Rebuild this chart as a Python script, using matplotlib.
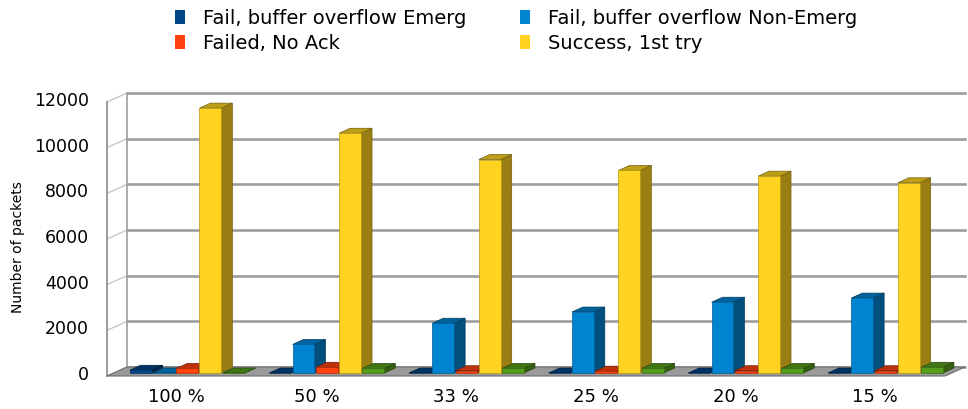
import matplotlib

matplotlib.use("Agg")
import matplotlib.pyplot as plt
import matplotlib.transforms as mtransforms
import numpy as np
from matplotlib.colors import to_rgb
from matplotlib.patches import Patch, Polygon


CATEGORIES = ["100 %", "50 %", "33 %", "25 %", "20 %", "15 %"]
EMERG = [120, 0, 0, 0, 0, 0]
NON_EMERG = [0, 1250, 2180, 2670, 3100, 3280]
NO_ACK = [200, 250, 100, 80, 100, 100]
SUCCESS = [11600, 10500, 9350, 8870, 8620, 8330]
OTHER = [0, 200, 200, 200, 200, 250]
SERIES = [EMERG, NON_EMERG, NO_ACK, SUCCESS, OTHER]
LABELS = [
    "Fail, buffer overflow Emerg",
    "Fail, buffer overflow Non-Emerg",
    "Failed, No Ack",
    "Success, 1st try",
    None,
]
COLORS = ["#004586", "#0084d1", "#ff420e", "#ffd320", "#579d1c"]
Y_TICKS = [0, 2000, 4000, 6000, 8000, 10000, 12000]

# pseudo-3d geometry, in pixels (y up)
FLOOR_DX, FLOOR_DY = -20, -9
BAR_DX, BAR_DY = -9, -6
DEPTH_DX, DEPTH_DY = 11, 5


def shade(color, k):
    return tuple(c * k for c in to_rgb(color))


def main() -> None:
    fig = plt.figure(figsize=(9.68, 4.09), dpi=100)
    W, H = 968, 409
    ax = fig.add_axes([127 / W, 42 / H, 838 / W, 274 / H])
    n = len(CATEGORIES)
    ax.set_xlim(-0.5, n - 0.5)
    ax.set_ylim(0, Y_TICKS[-1])
    ax.axis("off")

    ux = n / ax.bbox.width
    uy = Y_TICKS[-1] / ax.bbox.height

    grid = "#9e9e9e"
    # back wall grid
    for t in Y_TICKS:
        ax.plot([-0.5, n - 0.5], [t, t], color=grid, lw=1.9, zorder=1, clip_on=False)
    # left wall
    x0 = -0.5
    for t in Y_TICKS:
        ax.plot([x0, x0 + FLOOR_DX * ux], [t, t + FLOOR_DY * uy], color="#c8c8c8", lw=1.0,
                zorder=1, clip_on=False)
    ax.plot([x0, x0], [0, Y_TICKS[-1]], color=grid, lw=1.2, zorder=1, clip_on=False)
    ax.plot([x0 + FLOOR_DX * ux] * 2, [FLOOR_DY * uy, Y_TICKS[-1] + FLOOR_DY * uy],
            color="#8a8a8a", lw=1.2, zorder=1, clip_on=False)
    # floor
    floor = Polygon(
        [(x0, 0), (n - 0.5, 0), (n - 0.5 + FLOOR_DX * ux, FLOOR_DY * uy),
         (x0 + FLOOR_DX * ux, FLOOR_DY * uy)],
        closed=True, facecolor="#9a9a9a", edgecolor="#6e6e6e", lw=0.8, zorder=2, clip_on=False,
    )
    ax.add_patch(floor)

    nser = len(SERIES)
    slot = 1.0 / (nser + 1)
    bw = slot * 0.94
    dx, dy = DEPTH_DX * ux, DEPTH_DY * uy
    z = 3
    for i in range(n):
        for s, (vals, col) in enumerate(zip(SERIES, COLORS)):
            left = i - nser * slot / 2 + s * slot + BAR_DX * ux
            base = BAR_DY * uy
            top = base + vals[i]
            side = Polygon([(left + bw, base), (left + bw + dx, base + dy),
                            (left + bw + dx, top + dy), (left + bw, top)],
                           closed=True, facecolor=shade(col, 0.6), edgecolor=shade(col, 0.45),
                           lw=0.5, zorder=z, clip_on=False)
            cap = Polygon([(left, top), (left + bw, top), (left + bw + dx, top + dy),
                           (left + dx, top + dy)],
                          closed=True, facecolor=shade(col, 0.75), edgecolor=shade(col, 0.45),
                          lw=0.5, zorder=z, clip_on=False)
            ax.add_patch(side)
            ax.add_patch(cap)
            ax.bar(left, vals[i], width=bw, bottom=base, align="edge", color=col,
                   edgecolor=shade(col, 0.7), linewidth=0.5, zorder=z, clip_on=False)
            z += 1

    # tick labels
    ytr = mtransforms.offset_copy(ax.get_yaxis_transform(), fig=fig, x=-38, y=-8, units="dots")
    for t in Y_TICKS:
        ax.text(0, t, f"{t}", transform=ytr, ha="right", va="center", fontsize=12.5,
                family="DejaVu Sans")
    xtr = mtransforms.offset_copy(ax.get_xaxis_transform(), fig=fig, x=-20, y=-30, units="dots")
    for i, lab in enumerate(CATEGORIES):
        ax.text(i, 0, lab, transform=xtr, ha="center", va="center", fontsize=13,
                family="DejaVu Sans")

    fig.text(18 / W, 1 - 247 / H, "Number of packets", rotation=90, ha="center", va="center",
             fontsize=10, family="DejaVu Sans")

    # legend fills column-wise: reorder so rows read as in the original
    handles = [Patch(facecolor=c, edgecolor="none", label=l)
               for c, l in zip(COLORS, LABELS) if l]
    handles = [handles[0], handles[2], handles[1], handles[3]]
    fig.legend(handles=handles, ncol=2, loc="upper left", bbox_to_anchor=(175 / W, 1 - 9 / H),
               frameon=False, borderpad=0, borderaxespad=0, handlelength=0.5, handleheight=0.75,
               handletextpad=0.95, columnspacing=2.75, labelspacing=0.3,
               prop={"family": "DejaVu Sans", "size": 14})

    fig.savefig("out.png", dpi=100)
    plt.close(fig)


if __name__ == "__main__":
    main()
